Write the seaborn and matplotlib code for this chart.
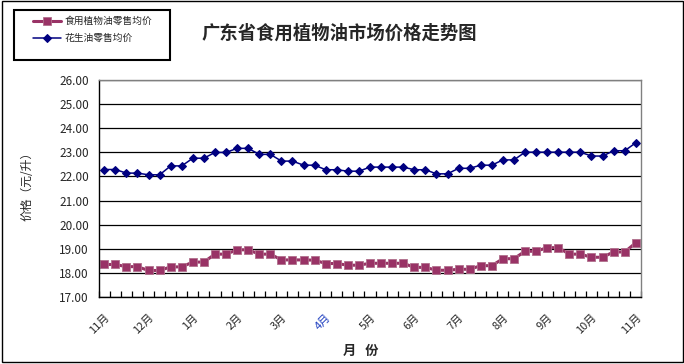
import numpy as np
import pandas as pd
import matplotlib
matplotlib.use("Agg")
import matplotlib.pyplot as plt
import matplotlib.transforms as mtransforms
from matplotlib.patches import Rectangle
import seaborn as sns

# weekly retail prices, yuan per litre
veg_oil = [18.34, 18.34, 18.25, 18.25, 18.09, 18.09, 18.24, 18.24,
           18.44, 18.44, 18.77, 18.77, 18.95, 18.95, 18.77, 18.77,
           18.53, 18.53, 18.53, 18.52, 18.38, 18.38, 18.31, 18.31,
           18.39, 18.39, 18.39, 18.39, 18.22, 18.22, 18.10, 18.10,
           18.14, 18.14, 18.29, 18.29, 18.58, 18.58, 18.89, 18.89,
           19.04, 19.04, 18.77, 18.77, 18.64, 18.64, 18.86, 18.86, 19.24]
peanut_oil = [22.29, 22.29, 22.14, 22.14, 22.07, 22.07, 22.44, 22.44,
              22.76, 22.76, 23.00, 23.00, 23.17, 23.17, 22.92, 22.92,
              22.64, 22.64, 22.47, 22.47, 22.28, 22.28, 22.22, 22.22,
              22.39, 22.39, 22.39, 22.39, 22.28, 22.28, 22.11, 22.11,
              22.34, 22.34, 22.47, 22.47, 22.69, 22.69, 23.01, 23.01,
              23.01, 23.01, 23.01, 23.01, 22.85, 22.85, 23.07, 23.07, 23.40]
month_labels = ["11月", "12月", "1月", "2月", "3月", "4月", "5月",
                "6月", "7月", "8月", "9月", "10月", "11月"]
veg_name = "食用植物油零售均价"
peanut_name = "花生油零售均价"

sns.set_style("white")
plt.rcParams['font.family'] = ['Noto Sans CJK SC', 'DejaVu Sans']

W, H = 684, 364
fig = plt.figure(figsize=(W / 100, H / 100), dpi=100)
ax = fig.add_axes([98.7 / W, 1 - 296.7 / H, (641.3 - 98.7) / W, (296.7 - 80.3) / H])

week = np.arange(len(veg_oil))
sns.lineplot(x=week, y=veg_oil, ax=ax, color="#993366", lw=2.2, marker="s",
             markersize=5.2, markeredgecolor="#b0708c", markeredgewidth=0.6,
             label=veg_name)
sns.lineplot(x=week, y=peanut_oil, ax=ax, color="#000080", lw=1.1, marker="D",
             markersize=4.2, markeredgecolor="#000080", label=peanut_name)

ax.set_ylim(17, 26)
ax.set_xlim(-0.5, len(week) - 0.5)
ax.set_yticks(np.arange(17, 27, 1))
ax.set_yticklabels([f"{v:.2f}" for v in np.arange(17, 27, 1)], fontsize=8.5)
ax.yaxis.grid(True, color="black", lw=0.9)
ax.set_axisbelow(True)
ax.tick_params(axis="y", length=0, pad=7)

ax.set_xticks(week[::4])
ax.set_xticklabels(month_labels, fontsize=8, rotation=45, ha="right",
                   va="top", rotation_mode="anchor")
off = mtransforms.ScaledTranslation(-4 / 100, 0, fig.dpi_scale_trans)
for lab in ax.get_xticklabels():
    lab.set_transform(lab.get_transform() + off)
ax.get_xticklabels()[5].set_color("#2040c0")
ax.set_xticks(np.arange(-0.5, len(week), 1), minor=True)
ax.tick_params(axis="x", which="major", length=0, pad=11)
ax.tick_params(axis="x", which="minor", direction="in", length=4,
               width=0.9, color="black", bottom=True)

for side in ["left", "bottom"]:
    ax.spines[side].set_color("black")
    ax.spines[side].set_linewidth(1.0)
for side in ["top", "right"]:
    ax.spines[side].set_color("#808080")
    ax.spines[side].set_linewidth(1.0)

ax.set_ylabel("价格（元/升）", fontsize=8.5)
ax.yaxis.set_label_coords(-(98.7 - 27) / (641.3 - 98.7), (296.7 - 183) / (296.7 - 80.3))
ax.yaxis.label.set_va("center")
ax.set_xlabel("月   份", fontsize=9.5, fontweight="bold")
ax.xaxis.set_label_coords((361 - 98.7) / (641.3 - 98.7), -(351 - 296.7) / (296.7 - 80.3))
ax.xaxis.label.set_va("center")

fig.text(339 / W, 1 - 33 / H, "广东省食用植物油市场价格走势图", fontsize=13.2,
         fontweight="bold", ha="center", va="center")

leg = ax.legend(loc="upper left", bbox_to_anchor=(33 / W, 1 - 16 / H),
                bbox_transform=fig.transFigure, frameon=False, fontsize=7,
                handlelength=2.9, handletextpad=0.3, labelspacing=0.75,
                borderpad=0, borderaxespad=0)

fig.patches.append(Rectangle((14 / W, 1 - 60 / H), 156 / W, 50 / H,
                             transform=fig.transFigure, fill=False,
                             edgecolor="black", lw=1.5))
fig.patches.append(Rectangle((1.5 / W, 1 - 362 / H), 681.5 / W, 361 / H,
                             transform=fig.transFigure, fill=False,
                             edgecolor="black", lw=1.0))

fig.savefig("out.png", dpi=100)
